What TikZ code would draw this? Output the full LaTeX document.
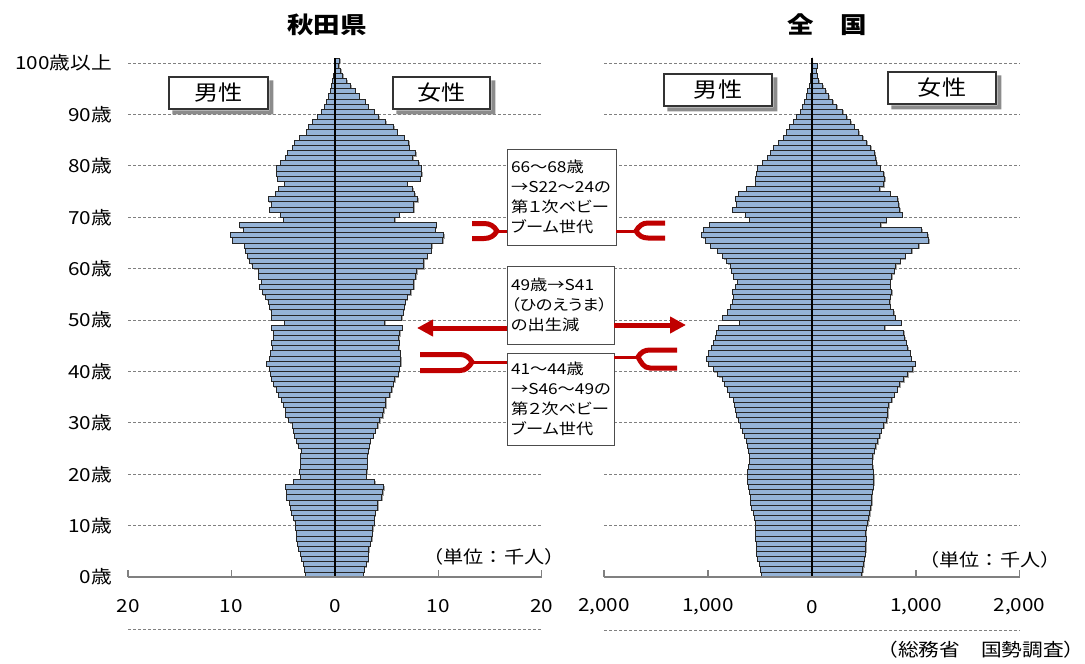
\documentclass[tikz,border=0pt]{standalone}
\usepackage{fontspec}
\setmainfont[FakeStretch=1.15]{Noto Sans CJK JP}
\newfontfamily\notefont[FakeStretch=1.15,RawFeature=+palt]{Noto Sans CJK JP}
\usetikzlibrary{arrows.meta}

\definecolor{barblue}{RGB}{149,179,215}
\definecolor{gridgray}{RGB}{128,128,128}
\definecolor{boomred}{RGB}{192,0,0}

\tikzset{
  bar/.style={fill=barblue, draw=black!85, line width=0.7pt},
  barshade/.style={fill=black!35},
  boxshade/.style={fill=black!45},
  gridline/.style={gridgray, dash pattern=on 3pt off 2pt, line width=0.8pt},
  axisline/.style={gridgray, line width=1.8pt},
  axistick/.style={gridgray, line width=1.3pt},
  zeroline/.style={black, line width=1.2pt},
  sexbox/.style={draw=black!80, line width=1.4pt, fill=white, minimum height=32pt, inner sep=0pt,
    font=\fontsize{21}{24}\selectfont},
  notebox/.style={draw=black!70, line width=0.8pt, fill=white, align=left, inner xsep=4pt, inner ysep=2pt,
    font=\notefont\fontsize{15}{20}\selectfont},
  fork/.style={boomred, line width=5pt},
  forktail/.style={boomred, line width=3pt},
  bigarrow/.style={boomred, line width=5pt, -{Triangle[length=16pt,width=16pt]}},
  agelabel/.style={anchor=east, inner sep=0pt, font=\fontsize{18}{20}\selectfont},
  ticklabel/.style={inner sep=0pt, font=\fontsize{18}{20}\selectfont},
  unitlabel/.style={inner sep=0pt, font=\fontsize{17.5}{20}\selectfont},
  title/.style={inner sep=0pt, font=\bfseries\fontsize{23}{26}\selectfont},
}

% age / male / female (Akita: thousand people)
\def\akitadata{0/2.85/2.7, 1/3.0/2.8, 2/3.1/3.0, 3/3.25/3.2, 4/3.4/3.2, 5/3.5/3.25, 6/3.6/3.4, 7/3.7/3.55, 8/3.75/3.6, 9/3.8/3.65,
10/3.85/3.8, 11/4.05/3.8, 12/4.2/3.9, 13/4.3/4.1, 14/4.4/4.1, 15/4.7/4.5, 16/4.7/4.6, 17/4.8/4.7, 18/4.05/3.85, 19/3.4/3.0,
20/3.45/3.05, 21/3.4/3.1, 22/3.4/3.1, 23/3.4/3.1, 24/3.3/3.2, 25/3.5/3.3, 26/3.75/3.4, 27/3.95/3.7, 28/4.05/3.9, 29/4.1/4.1,
30/4.5/4.3, 31/4.8/4.6, 32/4.85/4.7, 33/5.0/4.9, 34/5.2/4.9, 35/5.5/5.3, 36/5.7/5.5, 37/6.0/5.6, 38/6.15/5.76, 39/6.3/6.1,
40/6.4/6.2, 41/6.6/6.35, 42/6.4/6.35, 43/6.25/6.3, 44/6.1/6.15, 45/6.15/6.2, 46/6.0/6.15, 47/6.0/6.25, 48/6.2/6.5, 49/4.9/4.8,
50/6.2/6.47, 51/6.15/6.57, 52/6.4/6.7, 53/6.5/6.8, 54/6.7/6.96, 55/7.05/7.3, 56/7.3/7.6, 57/7.15/7.6, 58/7.4/7.8, 59/7.4/7.9,
60/8.0/8.6, 61/8.25/8.6, 62/8.5/8.9, 63/8.7/9.3, 64/8.8/9.35, 65/9.97/10.4, 66/10.1/10.5, 67/8.9/9.7, 68/9.3/9.8, 69/5.0/5.76,
70/5.3/6.2, 71/6.4/7.6, 72/6.15/7.6, 73/6.5/8.0, 74/5.76/7.7, 75/5.5/7.5, 76/4.95/6.96, 77/5.6/8.25, 78/5.7/8.4, 79/5.7/8.35,
80/5.3/8.1, 81/4.8/7.5, 82/4.6/7.8, 83/4.1/7.15, 84/3.9/7.1, 85/3.46/6.7, 86/2.8/6.0, 87/2.6/5.66, 88/2.2/4.9, 89/1.68/4.2,
90/1.33/3.8, 91/1.0/3.2, 92/0.87/2.9, 93/0.65/2.35, 94/0.48/1.94, 95/0.39/1.5, 96/0.26/1.13, 97/0.16/0.71, 98/0.1/0.55, 99/0.05/0.32, 100/0.08/0.42}

% age / male / female (Japan: million people)
\def\japandata{0/0.489/0.479, 1/0.498/0.489, 2/0.511/0.495, 3/0.524/0.502, 4/0.534/0.511, 5/0.54/0.514, 6/0.54/0.514, 7/0.547/0.521, 8/0.547/0.518, 9/0.543/0.521,
10/0.543/0.537, 11/0.556/0.543, 12/0.566/0.556, 13/0.582/0.566, 14/0.592/0.576, 15/0.598/0.576, 16/0.608/0.579, 17/0.617/0.588, 18/0.624/0.592, 19/0.621/0.592,
20/0.624/0.588, 21/0.617/0.585, 22/0.608/0.579, 23/0.608/0.585, 24/0.614/0.598, 25/0.621/0.611, 26/0.633/0.633, 27/0.656/0.653, 28/0.672/0.666, 29/0.688/0.688,
30/0.711/0.717, 31/0.733/0.727, 32/0.74/0.727, 33/0.749/0.74, 34/0.759/0.765, 35/0.794/0.791, 36/0.814/0.82, 37/0.842/0.842, 38/0.865/0.881, 39/0.91/0.92,
40/0.952/0.971, 41/1.0/0.994, 42/1.016/0.955, 43/1.0/0.945, 44/0.974/0.923, 45/0.952/0.907, 46/0.936/0.891, 47/0.92/0.881, 48/0.904/0.698, 49/0.701/0.859,
50/0.865/0.8, 51/0.814/0.785, 52/0.785/0.752, 53/0.765/0.746, 54/0.759/0.752, 55/0.768/0.768, 56/0.743/0.752, 57/0.717/0.752, 58/0.759/0.768, 59/0.775/0.791,
60/0.785/0.804, 61/0.823/0.849, 62/0.865/0.897, 63/0.913/0.961, 64/0.977/1.029, 65/1.032/1.122, 66/1.064/1.116, 67/1.048/1.058, 68/0.994/0.662, 69/0.605/0.714,
70/0.64/0.868, 71/0.765/0.842, 72/0.733/0.833, 73/0.74/0.823, 74/0.707/0.752, 75/0.63/0.65, 76/0.543/0.691, 77/0.547/0.698, 78/0.537/0.691, 79/0.524/0.656,
80/0.476/0.624, 81/0.434/0.611, 82/0.402/0.601, 83/0.37/0.563, 84/0.325/0.527, 85/0.28/0.486, 86/0.248/0.447, 87/0.219/0.405, 88/0.18/0.37, 89/0.148/0.334,
90/0.116/0.293, 91/0.093/0.238, 92/0.077/0.2, 93/0.058/0.161, 94/0.042/0.129, 95/0.029/0.103, 96/0.019/0.064, 97/0.013/0.048, 98/0.006/0.039, 99/0.003/0.051, 100/0/0}

\begin{document}
\begin{tikzpicture}[x=1pt, y=-1pt]
    \useasboundingbox[fill=white] (0,0) rectangle (1085,664);

    % grid
    \foreach \a in {1,...,10} {
        \draw[gridline] (128,{577-51.4*\a}) -- (541.5,{577-51.4*\a});
        \draw[gridline] (604,{577-51.4*\a}) -- (1019.5,{577-51.4*\a});
    }
    \draw[gridline] (128,629) -- (541.5,629);
    \draw[gridline] (604,630) -- (1019.5,630);

    % age labels
    \node[agelabel] (age0) at (112,577) {0歳};
    \foreach \a in {1,...,9}
        \node[agelabel] (age\a) at (112,{577-51.4*\a}) {\a0歳};
    \node[agelabel] (age10) at (112,63) {100歳以上};

    % Akita bars
    \begin{scope}[shift={(335,577)}, x=10.33pt, y=5.14pt]
        \foreach \r/\m/\f in \akitadata {
            \fill[barshade, xshift=1.2pt, yshift=-1.2pt] (-\m,\r) rectangle (\f,\r+1);
        }
        \foreach \r/\m/\f in \akitadata {
            \draw[bar] (-\m,\r) rectangle (0,\r+1);
            \draw[bar] (0,\r) rectangle (\f,\r+1);
        }
    \end{scope}

    % Japan bars
    \begin{scope}[shift={(812,577)}, x=103.7pt, y=5.14pt]
        \foreach \r/\m/\f in \japandata {
            \fill[barshade, xshift=1.2pt, yshift=-1.2pt] (-\m,\r) rectangle (\f,\r+1);
        }
        \foreach \r/\m/\f in \japandata {
            \draw[bar] (-\m,\r) rectangle (0,\r+1);
            \draw[bar] (0,\r) rectangle (\f,\r+1);
        }
    \end{scope}

    % axes
    \draw[zeroline] (335,58) -- (335,577);
    \draw[zeroline] (812,58) -- (812,577);
    \draw[axisline] (128,577) -- (541.5,577);
    \draw[axisline] (604,577) -- (1019.5,577);
    \foreach \x in {128,231.3,438.3,541.5,604,708,916,1019.5}
        \draw[axistick] (\x,577) -- (\x,570);

    \foreach \x/\t [count=\i] in {128/20, 231.3/10, 335/0, 438.3/10, 541.5/20}
        \node[ticklabel] (akTick\i) at (\x,606) {\t};
    \foreach \x/\t [count=\i] in {604/{2,000}, 708/{1,000}, 812/0, 916/{1,000}, 1019.5/{2,000}}
        \node[ticklabel] (jpTick\i) at (\x,607) {\t};

    % titles and labels
    \node[title] (akTitle) at (327,25) {秋田県};
    \node[title] (jpTitle) at (827,25) {全　国};
    \node[sexbox, minimum width=99pt] (akMale) at (218.5,93) {男性};
    \node[sexbox, minimum width=97pt] (akFemale) at (441.5,93) {女性};
    \node[sexbox, minimum width=108pt] (jpMale) at (718,90) {男性};
    \node[sexbox, minimum width=108pt] (jpFemale) at (942,88) {女性};
    \foreach \n in {akMale,akFemale,jpMale,jpFemale}
        \fill[boxshade] ([shift={(0.7,4)}]\n.north east) -- ++(4,0) -- ([shift={(4.7,4.7)}]\n.south east)
            -- ([shift={(4,4.7)}]\n.south west) -- ([shift={(4,0.7)}]\n.south west) -- ([shift={(0.7,0.7)}]\n.south east) -- cycle;
    \node[unitlabel] (akUnit) at (494,557) {（単位：千人）};
    \node[unitlabel] (jpUnit) at (990,560) {（単位：千人）};
    \node[unitlabel, font=\fontsize{18}{20}\selectfont] (source) at (981,650) {（総務省　国勢調査）};

    % notes
    \node[notebox, text width=101pt, minimum height=96pt] (box1) at (561.5,197)
        {66～68歳\\→S22～24の\\第１次ベビー\\ブーム世代};
    \node[notebox, text width=99pt, minimum height=78pt] (box2) at (560.5,305)
        {49歳→S41\\（ひのえうま）\\の出生減};
    \node[notebox, text width=99pt, minimum height=92pt] (box3) at (560.5,399)
        {41～44歳\\→S46～49の\\第２次ベビー\\ブーム世代};

    % first baby boom
    \coordinate (j1l) at (497,231);
    \draw[fork] (472,223.5) -- (484,223.5) to[out=0,in=120] (j1l) to[out=-120,in=0] (484,238.5) -- (472,238.5);
    \draw[forktail] (j1l) -- (j1l -| box1.west);
    \coordinate (j1r) at (636,231);
    \draw[fork] (665,223) -- (648,223) to[out=180,in=60] (j1r) to[out=-60,in=180] (648,238) -- (665,238);
    \draw[forktail] (j1r) -- (j1r -| box1.east);

    % hinoeuma
    \coordinate (hinoL) at (417,328);
    \coordinate (hinoR) at (686,325);
    \draw[bigarrow] (hinoL -| box2.west) -- (hinoL);
    \draw[bigarrow] (hinoR -| box2.east) -- (hinoR);

    % second baby boom
    \coordinate (j3l) at (472,362);
    \draw[fork] (420,354.5) -- (460,354.5) to[out=0,in=120] (j3l) to[out=-120,in=0] (460,370.5) -- (420,370.5);
    \draw[forktail] (j3l) -- (j3l -| box3.west);
    \coordinate (j3r) at (638,357);
    \draw[fork] (677,350) -- (650,350) to[out=180,in=60] (j3r) to[out=-60,in=180] (650,368) -- (677,368);
    \draw[forktail] (j3r) -- (j3r -| box3.east);
\end{tikzpicture}
\end{document}
